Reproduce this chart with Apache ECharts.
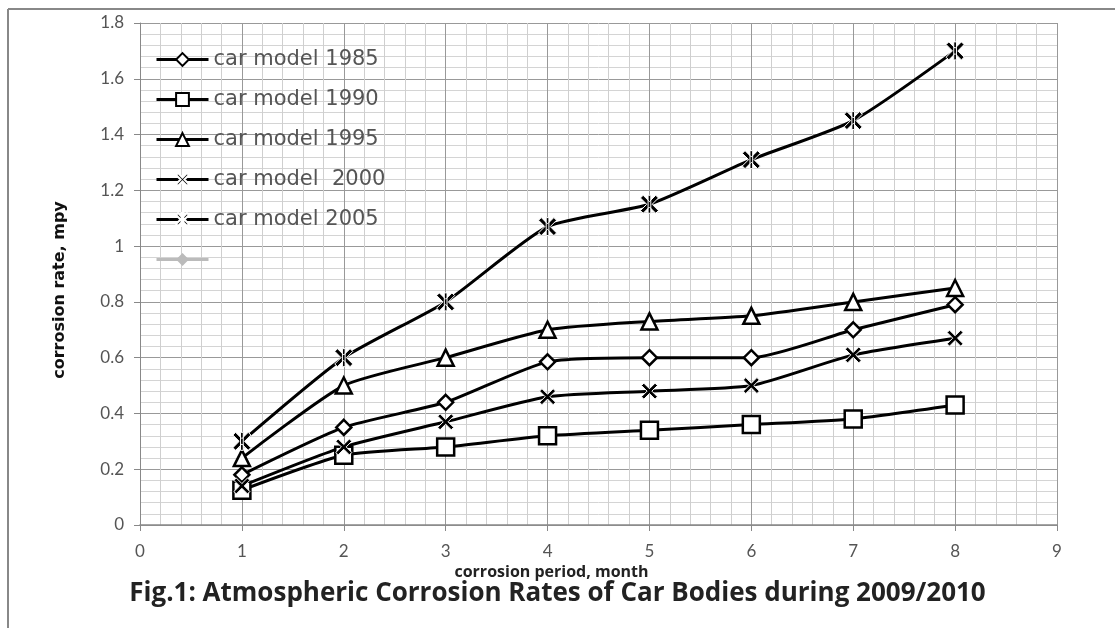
<!DOCTYPE html>
<html lang="en" style="height: 100%">
<head>
  <meta charset="utf-8">
</head>
<body style="height: 100%; margin: 0">
  <div id="container" style="height: 100%"></div>

  <script type="text/javascript" src="https://cdn.jsdelivr.net/npm/echarts@6/dist/echarts.min.js"></script>

  <script type="text/javascript">
    var months = [1, 2, 3, 4, 5, 6, 7, 8];
    var model1985 = [0.18, 0.35, 0.44, 0.585, 0.60, 0.60, 0.70, 0.79];
    var model1990 = [0.125, 0.25, 0.28, 0.32, 0.34, 0.36, 0.38, 0.43];
    var model1995 = [0.24, 0.50, 0.60, 0.70, 0.73, 0.75, 0.80, 0.85];
    var model2000 = [0.14, 0.28, 0.37, 0.46, 0.48, 0.50, 0.61, 0.67];
    var model2005 = [0.30, 0.60, 0.80, 1.07, 1.15, 1.31, 1.45, 1.70];
    var emptySeries = [];

    var dom = document.getElementById('container');
    var myChart = echarts.init(dom, null, { renderer: 'canvas' });

    // X mark and Excel-like star (X + vertical bar)
    var crossPath = 'path://M0,3 L3,0 L10,7 L17,0 L20,3 L13,10 L20,17 L17,20 L10,13 L3,20 L0,17 L7,10 Z';
    var starPath = crossPath + ' M8.5,0 L11.5,0 L11.5,20 L8.5,20 Z';

    function pairs(values) {
      return months.map(function (m, i) { return [m, values[i]]; });
    }

    function lineSeries(name, values, symbol, size, filled) {
      return {
        name: name,
        type: 'line',
        data: pairs(values),
        smooth: 0.2,
        symbol: symbol,
        symbolSize: size,
        showAllSymbol: true,
        lineStyle: { color: '#000', width: 3 },
        itemStyle: filled
          ? { color: '#000', borderColor: '#fff', borderWidth: 1 }
          : { color: '#fff', borderColor: '#000', borderWidth: 2.5 },
        emphasis: { disabled: true },
        z: 3
      };
    }

    var option = {
      animation: false,
      backgroundColor: '#fff',
      textStyle: { fontFamily: 'Lato' },
      title: {
        text: 'Fig.1: Atmospheric Corrosion Rates of Car Bodies during 2009/2010',
        left: 'center',
        top: 576,
        textStyle: { fontFamily: 'Open Sans', fontSize: 26, fontWeight: 'bold', color: '#222' }
      },
      legend: {
        orient: 'vertical',
        left: 150,
        top: 44,
        itemWidth: 52,
        itemHeight: 16,
        itemGap: 19,
        lineStyle: { width: 3 },
        textStyle: { fontFamily: 'DejaVu Sans', fontSize: 21, color: '#555' },
        data: ['car model 1985', 'car model 1990', 'car model 1995', 'car model  2000', 'car model 2005', ' ']
      },
      grid: { left: 140, right: 58, top: 23, bottom: 103 },
      xAxis: {
        type: 'value',
        min: 0,
        max: 9,
        interval: 1,
        name: 'corrosion period, month',
        nameLocation: 'middle',
        nameGap: 23,
        nameTextStyle: { fontFamily: 'Open Sans', fontSize: 16, fontWeight: 'bold', color: '#222', padding: [0, 94, 0, 0] },
        axisLine: { lineStyle: { color: '#888', width: 1.5 } },
        axisTick: { show: true, length: 6, lineStyle: { color: '#888' } },
        axisLabel: { fontSize: 17, color: '#555', margin: 18 },
        splitLine: { show: true, lineStyle: { color: '#999', width: 1 } },
        minorTick: { show: false, splitNumber: 5 },
        minorSplitLine: { show: true, lineStyle: { color: '#cfcfcf', width: 1 } }
      },
      yAxis: {
        type: 'value',
        min: 0,
        max: 1.8,
        interval: 0.2,
        name: 'corrosion rate, mpy',
        nameLocation: 'middle',
        nameGap: 72,
        nameTextStyle: { fontFamily: 'DejaVu Sans', fontSize: 16, fontWeight: 'bold', color: '#111', padding: [0, 32, 0, 0] },
        axisLine: { show: true, lineStyle: { color: '#888', width: 1 } },
        axisTick: { show: true, length: 6, lineStyle: { color: '#888' } },
        axisLabel: { fontSize: 17, color: '#555', margin: 16 },
        splitLine: { show: true, lineStyle: { color: '#999', width: 1 } },
        minorTick: { show: false, splitNumber: 5 },
        minorSplitLine: { show: true, lineStyle: { color: '#d4d4d4', width: 1 } }
      },
      graphic: [
        { type: 'line', shape: { x1: 8, y1: 9, x2: 1115, y2: 9 }, style: { stroke: '#888', lineWidth: 2 } },
        { type: 'line', shape: { x1: 8, y1: 9, x2: 8, y2: 628 }, style: { stroke: '#888', lineWidth: 2 } }
      ],
      series: [
        lineSeries('car model 1985', model1985, 'diamond', 15, false),
        lineSeries('car model 1990', model1990, 'rect', 17, false),
        lineSeries('car model 1995', model1995, 'triangle', 16, false),
        lineSeries('car model  2000', model2000, crossPath, 16, true),
        lineSeries('car model 2005', model2005, starPath, 18, true),
        {
          name: ' ',
          type: 'line',
          data: emptySeries,
          symbol: 'diamond',
          symbolSize: 12,
          lineStyle: { color: '#bbb', width: 3 },
          itemStyle: { color: '#bbb' }
        }
      ]
    };

    myChart.setOption(option);
    window.addEventListener('resize', myChart.resize);
  </script>
</body>
</html>
